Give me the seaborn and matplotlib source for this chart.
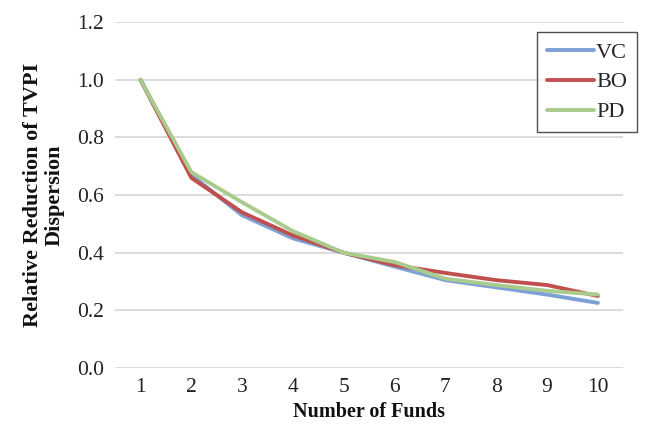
import matplotlib
matplotlib.use("Agg")
import matplotlib.pyplot as plt
import seaborn as sns
import pandas as pd

# Number of funds in the portfolio
funds = [1, 2, 3, 4, 5, 6, 7, 8, 9, 10]

# Relative reduction of TVPI dispersion per strategy
vc = [1.00, 0.67, 0.53, 0.45, 0.40, 0.352, 0.305, 0.28, 0.255, 0.226]
bo = [1.00, 0.66, 0.54, 0.46, 0.40, 0.357, 0.330, 0.305, 0.288, 0.250]
pd_ = [1.00, 0.68, 0.575, 0.475, 0.40, 0.368, 0.310, 0.288, 0.268, 0.255]

series_names = ["VC", "BO", "PD"]
colors = ["#7DA0D6", "#C0504D", "#A9CB8D"]

df = pd.DataFrame({"funds": funds * 3,
                   "value": vc + bo + pd_,
                   "strategy": [n for n in series_names for _ in funds]})

sns.set_theme(style="white")
plt.rcParams["font.family"] = ["Liberation Serif", "DejaVu Serif"]

fig = plt.figure(figsize=(6.54, 4.26), dpi=100)
ax = fig.add_axes([0.176, 0.136, 0.777, 0.812])

sns.lineplot(data=df, x="funds", y="value", hue="strategy",
             hue_order=series_names, palette=colors, linewidth=2.8,
             ax=ax, legend=True)

ax.set_xlim(0.5, 10.5)
ax.set_ylim(0, 1.2)
ax.set_xticks(funds)
ax.set_yticks([0.0, 0.2, 0.4, 0.6, 0.8, 1.0, 1.2])
ax.set_yticklabels([f"{v:.1f}" for v in ax.get_yticks()])
ax.tick_params(axis="y", length=0, labelsize=15.5, colors="#222222", pad=8)
ax.tick_params(axis="x", length=0, labelsize=15.5, colors="#222222", pad=7)
ax.grid(axis="y", color="#D9D9D9", linewidth=1.3)
ax.set_axisbelow(True)
for s in ax.spines.values():
    s.set_visible(False)

ax.set_xlabel("Number of Funds", fontsize=14.5, fontweight="bold",
              labelpad=4, color="#111111")
ax.set_ylabel("Relative Reduction of TVPI\nDispersion", fontsize=16,
              fontweight="bold", labelpad=9, color="#111111",
              linespacing=1.12)

leg = ax.legend(loc="upper right", bbox_to_anchor=(0.974, 0.925),
                bbox_transform=fig.transFigure, frameon=True,
                fancybox=False, edgecolor="#222222", fontsize=16,
                handlelength=2.1, handletextpad=0.1, labelspacing=0.42,
                borderpad=0.45, borderaxespad=0.0)
leg.get_frame().set_linewidth(1.0)
for line in leg.get_lines():
    line.set_linewidth(2.8)

fig.savefig("out.png", dpi=100)
